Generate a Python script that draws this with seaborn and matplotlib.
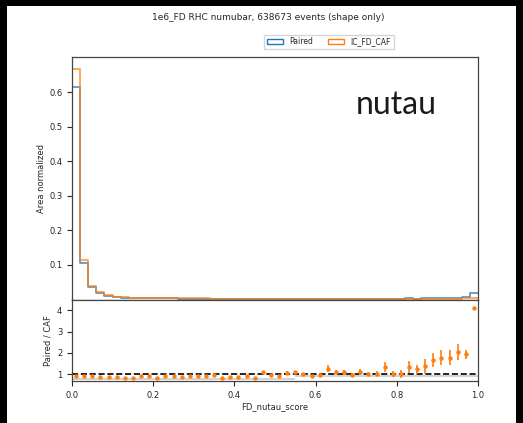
import numpy as np
import pandas as pd
import matplotlib
matplotlib.use("Agg")
import matplotlib.pyplot as plt
from matplotlib.patches import Patch, Rectangle
import seaborn as sns

# 50 equal-width bins of the nutau score
bin_edges = np.linspace(0.0, 1.0, 51)
bin_centers = 0.5 * (bin_edges[:-1] + bin_edges[1:])

# IC_FD_CAF shape (bin contents normalised to unit sum)
caf_values = [0.667, 0.114, 0.039, 0.022, 0.013, 0.008, 0.0065, 0.0055, 0.0048, 0.0043,
              0.0040, 0.0037, 0.0035, 0.0033, 0.0031, 0.0030, 0.0029, 0.0028, 0.0027, 0.0026,
              0.0026, 0.0025, 0.0025, 0.0024, 0.0024, 0.0023, 0.0023, 0.0023, 0.0022, 0.0022,
              0.0022, 0.0022, 0.0021, 0.0021, 0.0021, 0.0021, 0.0021, 0.0021, 0.0021, 0.0022,
              0.0022, 0.0022, 0.0023, 0.0023, 0.0024, 0.0025, 0.0026, 0.0028, 0.0031, 0.0045]

# Paired / CAF per bin and its uncertainty
ratio_values = [0.92, 0.92, 0.92, 0.87, 0.87, 0.87, 0.83, 0.84, 0.92, 0.93,
                0.83, 0.91, 0.92, 0.87, 0.92, 0.92, 0.92, 0.95, 0.83, 0.87,
                0.86, 0.93, 0.81, 1.09, 0.95, 0.92, 1.08, 1.09, 1.01, 0.93,
                0.95, 1.26, 1.12, 1.09, 0.97, 1.11, 1.01, 1.03, 1.34, 1.01,
                1.01, 1.36, 1.23, 1.37, 1.67, 1.78, 1.78, 2.03, 1.93, 4.10]
ratio_errors = [0.01, 0.02, 0.02, 0.03, 0.03, 0.03, 0.03, 0.03, 0.03, 0.03,
                0.03, 0.03, 0.03, 0.03, 0.03, 0.03, 0.03, 0.03, 0.03, 0.03,
                0.04, 0.04, 0.04, 0.06, 0.05, 0.05, 0.06, 0.06, 0.06, 0.06,
                0.07, 0.16, 0.10, 0.10, 0.08, 0.12, 0.10, 0.12, 0.25, 0.15,
                0.18, 0.28, 0.20, 0.33, 0.34, 0.36, 0.35, 0.38, 0.22, 0.05]

# Paired shape follows from the CAF shape and the ratio
paired_values = list(np.array(caf_values) * np.array(ratio_values))

# Reference band shading in the ratio panel
band_x = [0.0, 0.55, 0.55, 1.0]
band_lo = [0.72, 0.72, 0.90, 0.90]
band_hi = [0.82, 0.82, 0.98, 0.98]

title_text = "1e6_FD RHC numubar, 638673 events (shape only)"
labels = ["Paired", "IC_FD_CAF"]
colors = ["#1f77b4", "#ff7f0e"]

sns.set_style("ticks")
plt.rcParams["font.family"] = ["DejaVu Sans"]
plt.rcParams["font.size"] = 6
plt.rcParams["xtick.labelsize"] = 6
plt.rcParams["ytick.labelsize"] = 6
plt.rcParams["axes.labelsize"] = 6
plt.rcParams["axes.edgecolor"] = "#444444"
plt.rcParams["axes.linewidth"] = 0.9

fig = plt.figure(figsize=(5.23, 4.23), dpi=100)
fig.patch.set_facecolor("white")

W, H = 523.0, 423.0
ax = fig.add_axes([72 / W, 1 - 299.5 / H, (478 - 72) / W, (299.5 - 57.3) / H])
rax = fig.add_axes([72 / W, 1 - 381 / H, (478 - 72) / W, (381 - 299.5) / H], sharex=ax)

df = pd.DataFrame({
    "score": np.concatenate([bin_centers, bin_centers]),
    "weight": np.concatenate([paired_values, caf_values]),
    "sample": [labels[0]] * 50 + [labels[1]] * 50,
})
for lab, col in zip(labels, colors):
    sub = df[df["sample"] == lab].reset_index(drop=True)
    sns.histplot(data=sub, x="score", weights="weight", bins=list(bin_edges),
                 element="step", fill=False, color=col, alpha=0.8,
                 linewidth=1.2, ax=ax)

ax.set_xlim(0, 1)
ax.set_ylim(0, 0.701)
ax.set_yticks([0.1, 0.2, 0.3, 0.4, 0.5, 0.6])
ax.set_ylabel("Area normalized", labelpad=2)
ax.set_xlabel("")
ax.tick_params(axis="x", labelbottom=False, length=0)
ax.text(0.70, 0.766, "nutau", transform=ax.transAxes, fontsize=23,
        family="Lato", color="#1a1a1a", va="baseline", ha="left")

# Ratio panel
rax.fill_between(band_x, band_lo, band_hi, color="#d4d4d4", linewidth=0, zorder=1)
rax.axhline(1.0, color="black", linestyle="--", linewidth=1.2, zorder=2)
rax.errorbar(bin_centers, ratio_values, yerr=ratio_errors, fmt="o", ms=2.2,
             color=colors[1], elinewidth=1.2, capsize=0, zorder=3)
rax.set_xlim(0, 1)
rax.set_ylim(0.69, 4.5)
rax.set_yticks([1, 2, 3, 4])
rax.set_xticks([0.0, 0.2, 0.4, 0.6, 0.8, 1.0])
rax.set_ylabel("Paired / CAF", labelpad=3)
rax.set_xlabel("FD_nutau_score", labelpad=2)

handles = [Patch(facecolor="none", edgecolor=c, linewidth=1.0) for c in colors]
fig.legend(handles, labels, loc="center", bbox_to_anchor=(329 / W, 1 - 42 / H),
           ncol=2, fontsize=5.5, handlelength=2.1, handleheight=0.7,
           handletextpad=0.8, columnspacing=2.0, frameon=True, fancybox=False,
           edgecolor="#cccccc", borderpad=0.35)

fig.text(268 / W, 1 - 18 / H, title_text, ha="center", va="center", fontsize=6.5)

# Dark frame on the canvas edges
for rect in [(0, 0, 7 / W, 1), (1 - 7 / W, 0, 7 / W, 1), (0, 1 - 6 / H, 1, 6 / H)]:
    fig.patches.append(Rectangle(rect[:2], rect[2], rect[3], transform=fig.transFigure,
                                 facecolor="black", edgecolor="none", zorder=10))

fig.savefig("out.png", dpi=100)
